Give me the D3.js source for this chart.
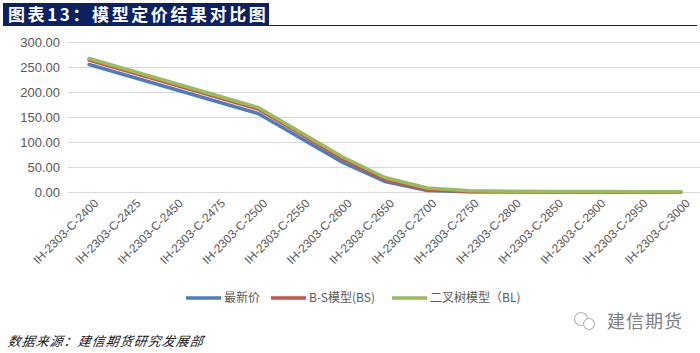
<!DOCTYPE html>
<html>
<head>
<meta charset="utf-8">
<script src="https://cdn.jsdelivr.net/npm/d3@7"></script>
<style>
  body { margin: 0; background: #fff; }
  svg { display: block; }
</style>
</head>
<body>
<script>
// 期权合约
const categories = ["IH-2303-C-2400", "IH-2303-C-2425", "IH-2303-C-2450", "IH-2303-C-2475",
  "IH-2303-C-2500", "IH-2303-C-2550", "IH-2303-C-2600", "IH-2303-C-2650", "IH-2303-C-2700",
  "IH-2303-C-2750", "IH-2303-C-2800", "IH-2303-C-2850", "IH-2303-C-2900", "IH-2303-C-2950",
  "IH-2303-C-3000"];
// 最新价
const lastPrice = [255, 230.5, 206, 181.5, 157, 108, 59, 21, 3, 0.6, 0.3, 0.2, 0.1, 0.1, 0.1];
// B-S模型(BS)
const bsPrice = [264, 239.5, 215, 190.5, 166, 116.5, 66, 25, 5, 1.2, 0.6, 0.4, 0.3, 0.2, 0.2];
// 二叉树模型（BL)
const blPrice = [267, 242.5, 218, 193.5, 169, 119.5, 70, 29, 8, 2.5, 1.5, 1.0, 0.8, 0.6, 0.5];
const yTicks = [0, 50, 100, 150, 200, 250, 300];

const series = [
  { name: "最新价", values: lastPrice, color: "#4a7dc4" },
  { name: "B-S模型(BS)", values: bsPrice, color: "#cf4f4c" },
  { name: "二叉树模型（BL)", values: blPrice, color: "#9bbb59" }
];

const width = 700, height = 353;
const svg = d3.select("body").append("svg")
  .attr("width", width)
  .attr("height", height);

// 标题栏
svg.append("rect")
  .attr("x", 3).attr("y", 3)
  .attr("width", 266).attr("height", 23)
  .attr("fill", "#0b2162");
svg.append("line")
  .attr("x1", 3).attr("x2", 697)
  .attr("y1", 25.5).attr("y2", 25.5)
  .attr("stroke", "#0b2162")
  .attr("stroke-width", 1);
svg.append("text")
  .attr("x", 8).attr("y", 21)
  .attr("fill", "#fff")
  .attr("font-family", "'Noto Sans CJK SC', sans-serif")
  .attr("font-weight", "bold")
  .attr("font-size", 17)
  .attr("letter-spacing", 2.6)
  .text("图表13：模型定价结果对比图");

// 坐标
const x = d3.scalePoint()
  .domain(categories)
  .range([68, 702])
  .padding(0.5);

const y = d3.scaleLinear()
  .domain([0, 300])
  .range([192, 42]);

// 网格线
svg.append("g")
  .selectAll("line")
  .data(yTicks)
  .join("line")
  .attr("x1", 68).attr("x2", 700)
  .attr("y1", d => Math.round(y(d)) + 0.5)
  .attr("y2", d => Math.round(y(d)) + 0.5)
  .attr("stroke", "#d9d9d9")
  .attr("stroke-width", 1);

// y轴标签
svg.append("g")
  .selectAll("text")
  .data(yTicks)
  .join("text")
  .attr("x", 60)
  .attr("y", d => y(d))
  .attr("dy", "0.36em")
  .attr("text-anchor", "end")
  .attr("fill", "#595959")
  .attr("font-family", "'Liberation Sans', Arial, sans-serif")
  .attr("font-size", 13)
  .text(d => d3.format(".2f")(d));

// x轴标签
svg.append("g")
  .selectAll("text")
  .data(categories)
  .join("text")
  .attr("transform", d => "translate(" + (x(d) + 7) + ",201) rotate(-45)")
  .attr("dy", "0.35em")
  .attr("text-anchor", "end")
  .attr("fill", "#595959")
  .attr("font-family", "'Liberation Sans', Arial, sans-serif")
  .attr("font-size", 12)
  .text(d => d);

// 折线
const line = d3.line()
  .x((d, i) => x(categories[i]))
  .y(d => y(d));

svg.append("g")
  .selectAll("path")
  .data(series)
  .join("path")
  .attr("d", d => line(d.values))
  .attr("fill", "none")
  .attr("stroke", d => d.color)
  .attr("stroke-width", 3.5)
  .attr("stroke-linejoin", "round")
  .attr("stroke-linecap", "round");

// 图例
const legendPos = [186, 271, 392];
const legend = svg.append("g")
  .selectAll("g")
  .data(series)
  .join("g")
  .attr("transform", (d, i) => "translate(" + legendPos[i] + ",298)");
legend.append("line")
  .attr("x1", 0).attr("x2", 35)
  .attr("stroke", d => d.color)
  .attr("stroke-width", 3.5);
legend.append("text")
  .attr("x", 38)
  .attr("dy", "0.36em")
  .attr("fill", "#595959")
  .attr("font-family", "'Noto Sans CJK SC', sans-serif")
  .attr("font-size", 12)
  .text(d => d.name);

// 数据来源
svg.append("text")
  .attr("x", 8).attr("y", 346)
  .attr("fill", "#1a1a1a")
  .attr("font-family", "'Noto Sans CJK SC', sans-serif")
  .attr("font-style", "italic")
  .attr("font-size", 13)
  .attr("letter-spacing", 1)
  .attr("transform", "skewX(-8) translate(48,0)")
  .text("数据来源：建信期货研究发展部");

// 水印
const logo = svg.append("g").attr("transform", "translate(585,321)");
logo.append("circle").attr("cx", -4).attr("cy", -2).attr("r", 6.5)
  .attr("fill", "#fff").attr("stroke", "#b5b5b5").attr("stroke-width", 1.2);
logo.append("circle").attr("cx", 4).attr("cy", 3).attr("r", 5.5)
  .attr("fill", "#fff").attr("stroke", "#b5b5b5").attr("stroke-width", 1.2);
svg.append("text")
  .attr("x", 607).attr("y", 328)
  .attr("fill", "#7f7f7f")
  .attr("font-family", "'Noto Sans CJK SC', sans-serif")
  .attr("font-size", 18)
  .attr("letter-spacing", 1)
  .text("建信期货");
</script>
</body>
</html>
